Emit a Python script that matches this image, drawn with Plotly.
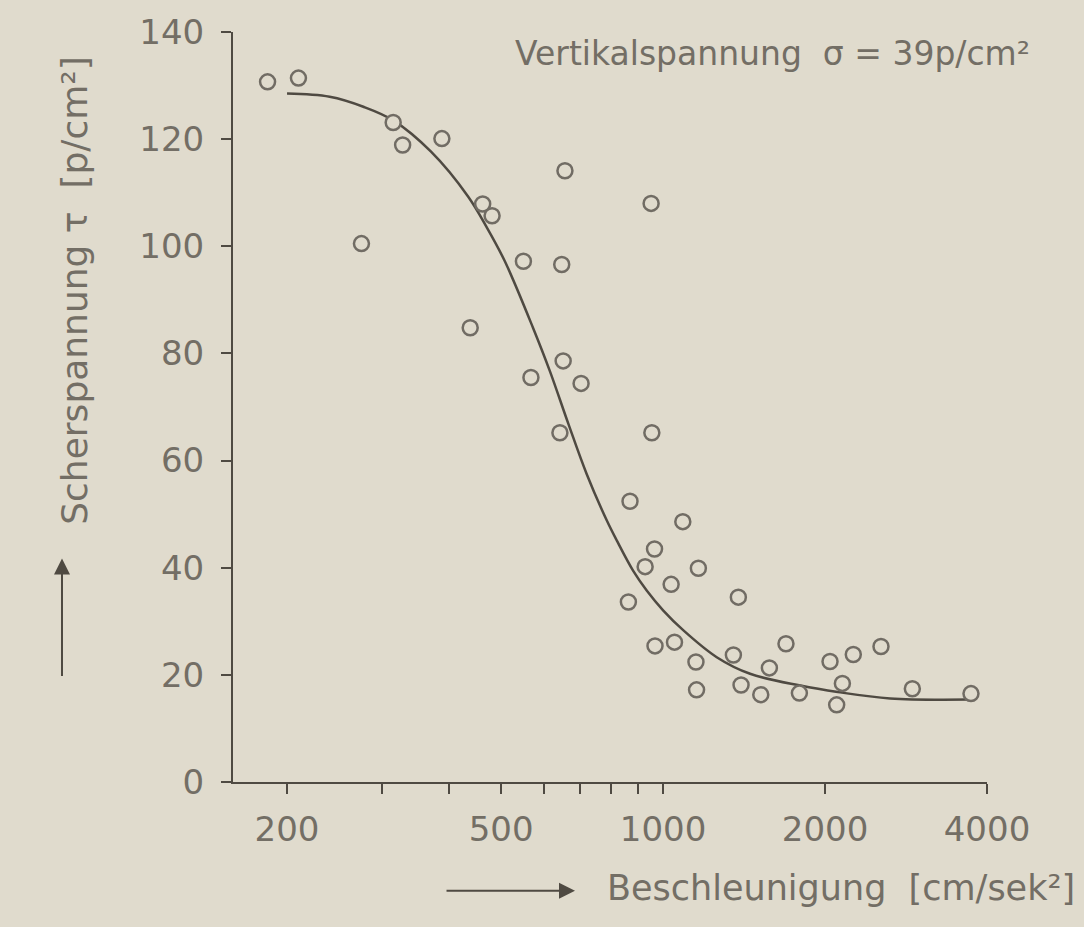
import plotly.graph_objects as go
import math

# ---- data ----
accel = [184, 210, 315, 328, 388, 657, 462, 481, 275, 550, 648, 438, 950,
         652, 568, 704, 643, 953, 868, 1088, 964, 926, 1163, 1035, 862, 1380,
         966, 1050, 1151, 1154, 1351, 1396, 1519, 1576, 1692, 1792, 2043,
         2257, 2154, 2102, 2541, 2906, 3735]
shear = [130.7, 131.4, 123.1, 118.9, 120.1, 114.1, 107.9, 105.7, 100.5, 97.2,
         96.6, 84.8, 108.0, 78.6, 75.5, 74.4, 65.2, 65.2, 52.4, 48.6, 43.5,
         40.2, 39.9, 36.9, 33.6, 34.5, 25.4, 26.1, 22.4, 17.2, 23.7, 18.1,
         16.3, 21.3, 25.8, 16.6, 22.5, 23.8, 18.4, 14.4, 25.3, 17.4, 16.5]

curve_x = [200, 240, 278, 315, 370, 434, 471, 508, 573, 616, 667, 721, 786,
           820, 880, 933, 1001, 1091, 1258, 1451, 1800, 2112, 2643, 3700]
curve_y = [128.5, 127.9, 126.0, 123.5, 117.7, 109.3, 103.4, 97.2, 84.8, 76.7,
           66.8, 57.5, 48.8, 45.1, 39.4, 35.7, 32.0, 28.3, 23.3, 20.2, 18.0,
           16.8, 15.6, 15.4]

x_tickvals = [200, 300, 400, 500, 600, 700, 800, 900, 1000, 2000, 4000]
x_ticktext = ["200", "", "", "500", "", "", "", "", "1000", "2000", "4000"]
y_tickvals = [0, 20, 40, 60, 80, 100, 120, 140]
y_ticktext = ["0", "20", "40", "60", "80", "100", "120", "140"]

BG = "#e0dbcd"
INK = "#4f4a42"
TXT = "#736e65"
MARK = "#716c64"
FONT = "DejaVu Sans"

fig = go.Figure()
fig.add_trace(go.Scatter(
    x=curve_x, y=curve_y, mode="lines",
    line=dict(color=INK, width=2.5, shape="spline", smoothing=1.0),
    hoverinfo="skip", showlegend=False))
fig.add_trace(go.Scatter(
    x=accel, y=shear, mode="markers",
    marker=dict(symbol="circle", size=15, color=BG,
                line=dict(color=MARK, width=2.5)),
    showlegend=False))

fig.update_layout(
    width=1084, height=927,
    margin=dict(l=233, r=97, t=30, b=145),
    paper_bgcolor=BG, plot_bgcolor=BG,
    font=dict(family=FONT, color=TXT, size=34),
    showlegend=False,
)
fig.update_xaxes(
    type="log", range=[math.log10(158.7), math.log10(4000)],
    tickvals=x_tickvals, ticktext=x_ticktext,
    showline=True, linecolor=INK, linewidth=2,
    ticks="outside", ticklen=10, tickwidth=2, tickcolor=INK,
    showgrid=False, zeroline=False,
    tickfont=dict(family=FONT, size=34, color=TXT),
    ticklabelstandoff=6,
)
fig.update_yaxes(
    range=[0, 140],
    tickvals=y_tickvals, ticktext=y_ticktext,
    showline=True, linecolor=INK, linewidth=2,
    ticks="outside", ticklen=10, tickwidth=2, tickcolor=INK,
    showgrid=False, zeroline=False,
    tickfont=dict(family=FONT, size=34, color=TXT),
    ticklabelstandoff=10,
)

# annotation inside the plot
fig.add_annotation(
    xref="paper", yref="paper", x=0.7149, y=0.9707,
    text="Vertikalspannung  σ = 39p/cm²", showarrow=False,
    font=dict(family=FONT, size=33, color=TXT),
    xanchor="center", yanchor="middle")

# y axis title with arrow
fig.add_annotation(
    xref="paper", yref="paper", x=-0.2095, y=0.655,
    text="Scherspannung τ  [p/cm²]", showarrow=False, textangle=-90,
    font=dict(family=FONT, size=36, color=TXT),
    xanchor="center", yanchor="middle")
fig.add_annotation(
    xref="paper", yref="paper", x=-0.2268, y=0.2979,
    ax=0, ay=119, axref="pixel", ayref="pixel",
    text="", showarrow=True, arrowhead=2, arrowsize=1.6, arrowwidth=2,
    arrowcolor=INK)

# x axis title with arrow
fig.add_annotation(
    xref="paper", yref="paper", x=0.8064, y=-0.141,
    text="Beschleunigung  [cm/sek²]", showarrow=False,
    font=dict(family=FONT, size=35, color=TXT),
    xanchor="center", yanchor="middle")
fig.add_annotation(
    xref="paper", yref="paper", x=0.4536, y=-0.1449,
    ax=-130, ay=0, axref="pixel", ayref="pixel",
    text="", showarrow=True, arrowhead=2, arrowsize=1.6, arrowwidth=2,
    arrowcolor=INK)

fig.write_html("out.html")
